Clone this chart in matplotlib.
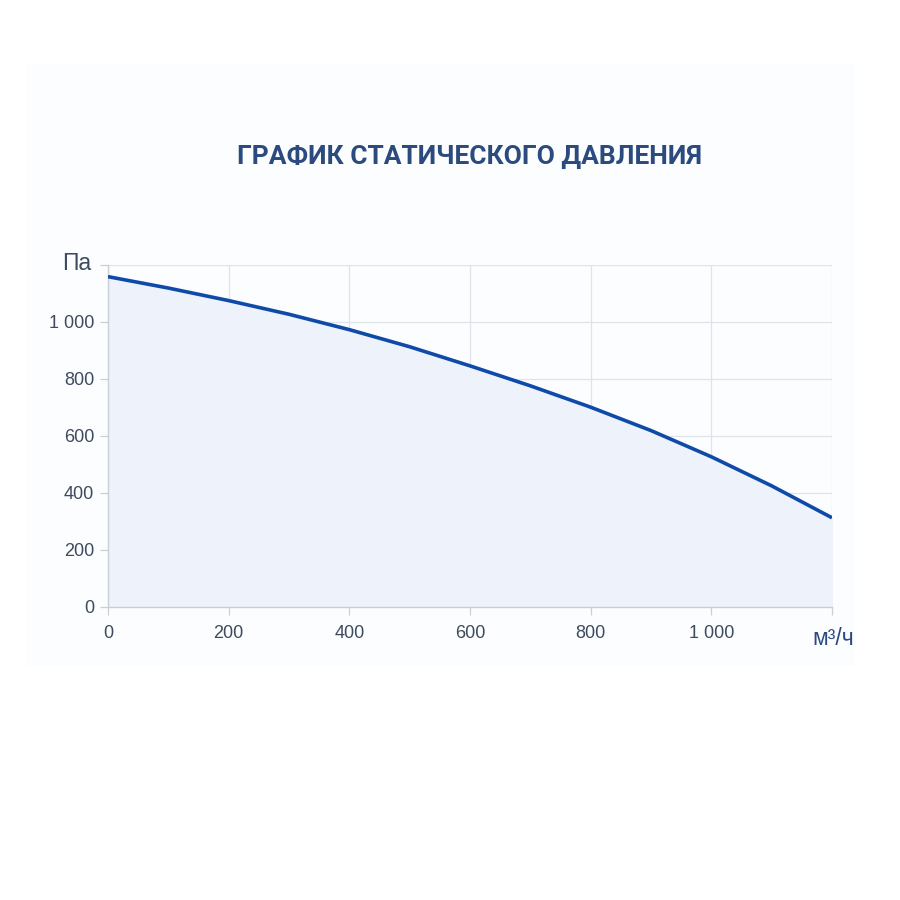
import matplotlib.pyplot as plt
from matplotlib.patches import Rectangle

# airflow, m3/h
flow = [0, 100, 200, 300, 400, 500, 600, 700, 800, 900, 1000, 1100, 1200]
# static pressure, Pa
pressure = [1159, 1119, 1075, 1027, 973, 913, 846, 776, 701, 619, 527, 425, 313]

x_ticks = [0, 200, 400, 600, 800, 1000]
x_labels = ['0', '200', '400', '600', '800', '1 000']
y_ticks = [0, 200, 400, 600, 800, 1000]
y_labels = ['0', '200', '400', '600', '800', '1 000']

plt.rcParams['font.family'] = ['Liberation Sans', 'DejaVu Sans']

fig = plt.figure(figsize=(9, 9), dpi=100)
fig.patch.set_facecolor('white')
# faint panel behind the chart
fig.add_artist(Rectangle((0.03, 0.26), 0.92, 0.67, transform=fig.transFigure,
                         facecolor='#fcfdfe', edgecolor='none', zorder=-5))

ax = fig.add_axes([0.12, 0.3256, 0.8044, 0.38])
ax.set_zorder(1)
ax.set_facecolor('#fcfdff')

ax.fill_between(flow, pressure, 0, color='#eef2fa', zorder=1)
ax.plot(flow, pressure, color='#0f4aa8', linewidth=2.6, zorder=3,
        solid_capstyle='butt', solid_joinstyle='round')

ax.set_xlim(0, 1200)
ax.set_ylim(0, 1200)
ax.set_xticks(x_ticks + [1200])
ax.set_xticklabels(x_labels + [''])
ax.set_yticks(y_ticks + [1200])
ax.set_yticklabels(y_labels + [''])

ax.grid(True, color='#dfe3ea', linewidth=0.9, zorder=0)
ax.set_axisbelow(True)
for side in ['top', 'right']:
    ax.spines[side].set_visible(False)
for side in ['left', 'bottom']:
    ax.spines[side].set_color('#c9ced8')
    ax.spines[side].set_linewidth(1.0)

ax.tick_params(axis='both', colors='#c9ced8', labelcolor='#3e4a5e', labelsize=13,
               length=6, width=0.9)
ax.tick_params(axis='x', pad=7)
ax.tick_params(axis='y', pad=4)

fig.text(0.069, 0.707, 'Па', ha='left', va='center', fontsize=16.5, color='#3e4a5e')
fig.text(0.926, 0.291, 'м³/ч', ha='center', va='center', fontsize=16.5, color='#2a4a7f')

fig.text(0.522, 0.826, 'ГРАФИК СТАТИЧЕСКОГО ДАВЛЕНИЯ', ha='center', va='center',
         fontsize=19, fontweight='bold', color='#2b4a7e', family=['Roboto', 'DejaVu Sans'])

fig.savefig('out.png', dpi=100)
